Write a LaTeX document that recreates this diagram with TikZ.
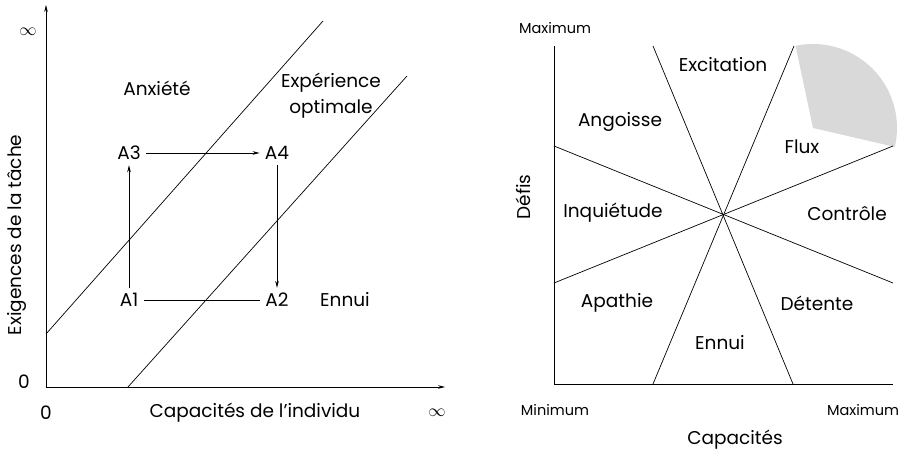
\documentclass[tikz,border=0pt]{standalone}
\usepackage{fontspec}
\setmainfont{Poppins}
\usetikzlibrary{arrows.meta}
\begin{document}
\begin{tikzpicture}[x=1pt, y=1pt, >={Stealth[length=7pt,width=3.6pt]}, line width=0.7pt,
    lbl/.style={font=\fontsize{18.5}{21}\selectfont, inner sep=1pt},
    pt/.style={font=\fontsize{18.5}{21}\selectfont, inner sep=5pt},
    small/.style={font=\fontsize{14.5}{16}\selectfont, inner sep=1pt}]
    \useasboundingbox (0,0) rectangle (909,457);

    % Left: axes
    \coordinate (O) at (46,70);
    \coordinate (ytip) at (46,452);
    \coordinate (xtip) at (445,70);
    \draw[->] (O) -- (ytip);
    \draw[->] (O) -- (xtip);
    \node[lbl] (yinf) at (28,425) {$\infty$};
    \node[lbl] (yzero) at (24,75) {0};
    \node[lbl] (xzero) at (46,44) {0};
    \node[lbl] (xinf) at (437,44) {$\infty$};
    \node[lbl, rotate=90] (ylab) at (17,222) {Exigences de la tâche};
    \node[lbl] (xlab) at (255,44) {Capacités de l’individu};

    % Left: channel
    \coordinate (ch1a) at (46,123);
    \coordinate (ch1b) at (323,436);
    \coordinate (ch2a) at (128,70);
    \coordinate (ch2b) at (407,381);
    \draw (ch1a) -- (ch1b);
    \draw (ch2a) -- (ch2b);
    \node[lbl] (anx) at (157,369) {Anxiété};
    \node[lbl, align=center] (opt) at (331,361) {Expérience\\[5pt]optimale};
    \node[lbl] (ennL) at (345,157) {Ennui};

    % Left: points
    \node[pt] (A1) at (129,157) {A1};
    \node[pt] (A2) at (277,157) {A2};
    \node[pt] (A3) at (129,304) {A3};
    \node[pt] (A4) at (277,304) {A4};
    \draw (A1) -- (A2);
    \draw[->] (A1) -- (A3);
    \draw[->] (A3) -- (A4);
    \draw[->] (A4) -- (A2);

    % Right: flow sector
    \fill[gray!30] (813,329) -- ++(102:84) arc[start angle=102, end angle=-13, radius=84] -- cycle;

    % Right: axes
    \coordinate (P) at (554,73);
    \coordinate (Ptop) at (554,411);
    \coordinate (Pright) at (893,73);
    \draw (Ptop) -- (P) -- (Pright);
    \node[small] (maxY) at (555,429) {Maximum};
    \node[small] (minX) at (555,47) {Minimum};
    \node[small] (maxX) at (863,47) {Maximum};
    \node[lbl, rotate=90] (defis) at (523,260) {Défis};
    \node[lbl] (capa) at (735,17) {Capacités};

    % Right: eight sectors
    \coordinate (C) at (723,242);
    \coordinate (T1) at (653,411);
    \coordinate (T2) at (794,411);
    \coordinate (B1) at (653,73);
    \coordinate (B2) at (793,73);
    \coordinate (L1) at (554,311);
    \coordinate (L2) at (554,174);
    \coordinate (R1) at (893,311);
    \coordinate (R2) at (893,174);
    \draw (T1) -- (B2);
    \draw (T2) -- (B1);
    \draw (L1) -- (R2);
    \draw (L2) -- (R1);
    \node[lbl] (exc) at (723,392) {Excitation};
    \node[lbl] (ang) at (620,335) {Angoisse};
    \node[lbl] (flux) at (802,310) {Flux};
    \node[lbl] (inq) at (613,244) {Inquiétude};
    \node[lbl] (ctrl) at (847,243) {Contrôle};
    \node[lbl] (apa) at (617,154) {Apathie};
    \node[lbl] (det) at (817,154) {Détente};
    \node[lbl] (ennR) at (720,114) {Ennui};
\end{tikzpicture}
\end{document}
